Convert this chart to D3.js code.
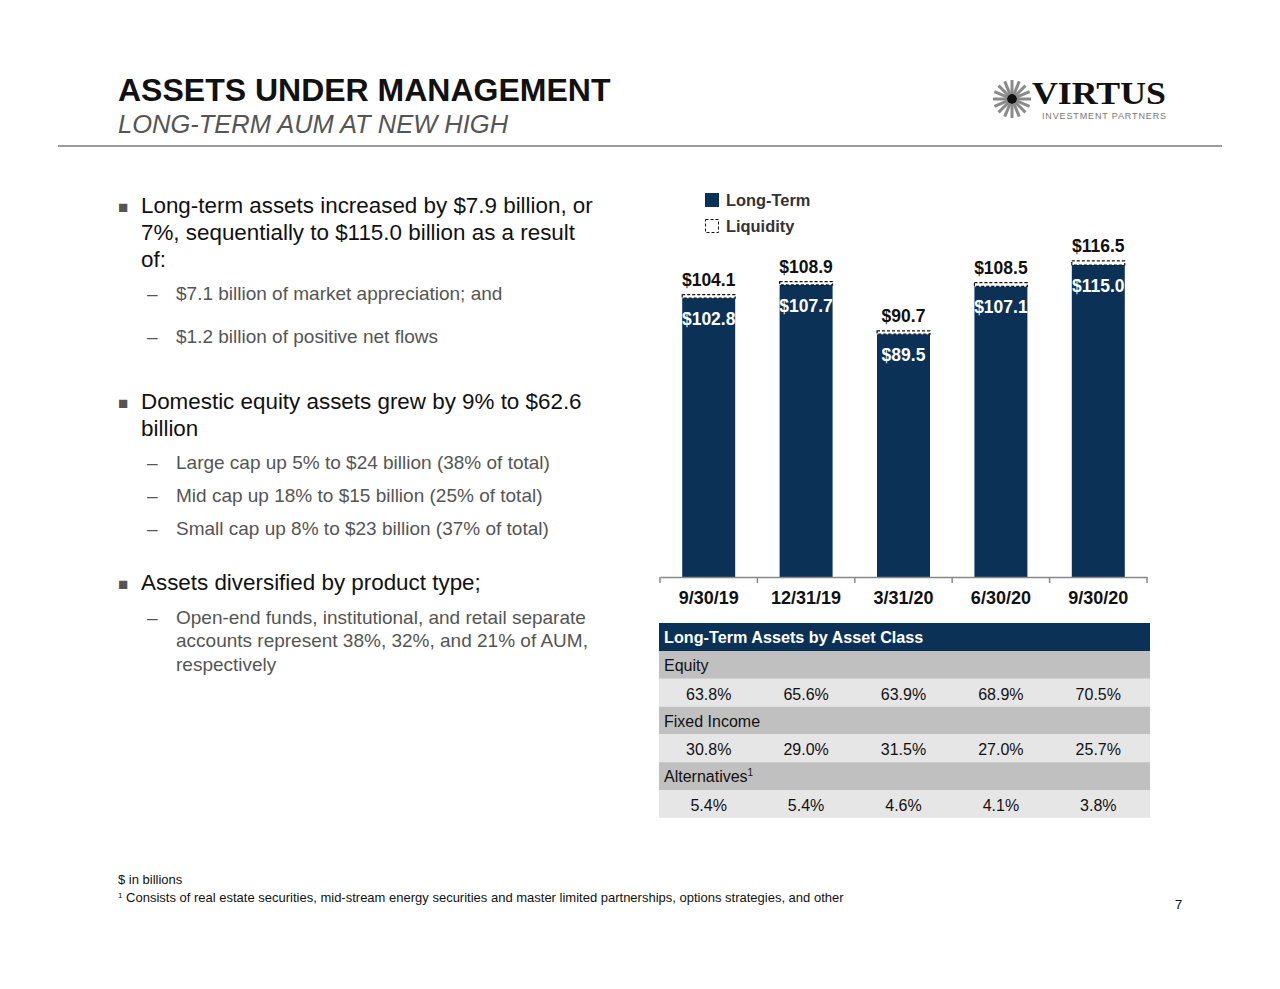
<!DOCTYPE html>
<html><head><meta charset="utf-8">
<script src="https://cdn.jsdelivr.net/npm/d3@7"></script>
<style>
body{margin:0;background:#fff;}
svg{display:block;font-family:Arial,"Liberation Sans",sans-serif;}
</style></head>
<body>
<svg id="c" width="1280" height="989"></svg>
<script>
const categories = ["9/30/19","12/31/19","3/31/20","6/30/20","9/30/20"];
const longTerm = [102.8,107.7,89.5,107.1,115.0];
const liquidity = [1.3,1.2,1.2,1.4,1.5];
const totals = [104.1,108.9,90.7,108.5,116.5];
const tableTitle = "Long-Term Assets by Asset Class";
const assetClasses = ["Equity","Fixed Income","Alternatives"];
const equity = ["63.8%","65.6%","63.9%","68.9%","70.5%"];
const fixedIncome = ["30.8%","29.0%","31.5%","27.0%","25.7%"];
const alternatives = ["5.4%","5.4%","4.6%","4.1%","3.8%"];
const seriesNames = ["Long-Term","Liquidity"];

const svg = d3.select("#c");
const navy = "#0b3157";

// Header
svg.append("text").attr("x",118).attr("y",101).attr("font-size",32).attr("font-weight","bold").attr("fill","#111").text("ASSETS UNDER MANAGEMENT");
svg.append("text").attr("x",118).attr("y",133).attr("font-size",25.5).attr("font-style","italic").attr("fill","#555").text("LONG-TERM AUM AT NEW HIGH");
svg.append("line").attr("x1",58).attr("x2",1222).attr("y1",146).attr("y2",146).attr("stroke","#9a9a9a").attr("stroke-width",2);

// Logo
const lg = svg.append("g").attr("transform","translate(1012,99)");
for(let i=0;i<16;i++){
  const a = i*Math.PI/8;
  lg.append("line").attr("x1",Math.cos(a)*5).attr("y1",Math.sin(a)*5)
    .attr("x2",Math.cos(a)*19).attr("y2",Math.sin(a)*19)
    .attr("stroke","#8a8a8a").attr("stroke-width",3);
}
lg.append("circle").attr("r",5).attr("fill","#111");
svg.append("text").attr("x",1032).attr("y",104).attr("font-size",31).attr("font-weight","bold")
  .attr("font-family","'Liberation Serif','DejaVu Serif',serif").attr("fill","#111").attr("textLength",134).attr("lengthAdjust","spacingAndGlyphs").text("VIRTUS");
svg.append("text").attr("x",1042).attr("y",119).attr("font-size",9).attr("fill","#777").attr("textLength",124).text("INVESTMENT PARTNERS");

// Bullets
const M = 22.4, S = 19, B = "#555", T = "#111";
const bullets = [
  {t:"■",x:118,y:213,s:17,c:B},
  {t:"Long-term assets increased by $7.9 billion, or",x:141,y:213,s:M,c:T},
  {t:"7%, sequentially to $115.0 billion as a result",x:141,y:240,s:M,c:T},
  {t:"of:",x:141,y:267,s:M,c:T},
  {t:"–",x:147,y:300,s:S,c:B},
  {t:"$7.1 billion of market appreciation; and",x:176,y:300,s:S,c:B},
  {t:"–",x:147,y:343,s:S,c:B},
  {t:"$1.2 billion of positive net flows",x:176,y:343,s:S,c:B},
  {t:"■",x:118,y:409,s:17,c:B},
  {t:"Domestic equity assets grew by 9% to $62.6",x:141,y:409,s:M,c:T},
  {t:"billion",x:141,y:436,s:M,c:T},
  {t:"–",x:147,y:469,s:S,c:B},
  {t:"Large cap up 5% to $24 billion (38% of total)",x:176,y:469,s:S,c:B},
  {t:"–",x:147,y:502,s:S,c:B},
  {t:"Mid cap up 18% to $15 billion (25% of total)",x:176,y:502,s:S,c:B},
  {t:"–",x:147,y:535,s:S,c:B},
  {t:"Small cap up 8% to $23 billion (37% of total)",x:176,y:535,s:S,c:B},
  {t:"■",x:118,y:590,s:17,c:B},
  {t:"Assets diversified by product type;",x:141,y:590,s:M,c:T},
  {t:"–",x:147,y:624,s:S,c:B},
  {t:"Open-end funds, institutional, and retail separate",x:176,y:624,s:S,c:B},
  {t:"accounts represent 38%, 32%, and 21% of AUM,",x:176,y:647,s:S,c:B},
  {t:"respectively",x:176,y:671,s:S,c:B},
];
svg.append("g").selectAll("text").data(bullets).join("text")
  .attr("x",d=>d.x).attr("y",d=>d.y).attr("font-size",d=>d.s).attr("fill",d=>d.c).text(d=>d.t);

// Chart
const x = d3.scaleBand().domain(categories).range([660,1147]).paddingInner(0.456).paddingOuter(0.228);
const y = d3.scaleLinear().domain([0,115]).range([577,265]);

const rows = categories.map((c,i)=>({c,lt:longTerm[i],lq:liquidity[i],tot:totals[i]}));
const g = svg.append("g");
g.selectAll("rect.lt").data(rows).join("rect").attr("class","lt")
  .attr("x",d=>x(d.c)).attr("width",x.bandwidth())
  .attr("y",d=>y(d.lt)).attr("height",d=>y(0)-y(d.lt)).attr("fill",navy);
g.selectAll("rect.lq").data(rows).join("rect").attr("class","lq")
  .attr("x",d=>x(d.c)).attr("width",x.bandwidth())
  .attr("y",d=>y(d.lt+d.lq)).attr("height",d=>y(d.lt)-y(d.lt+d.lq))
  .attr("fill","#fff").attr("stroke","#111").attr("stroke-width",1.2).attr("stroke-dasharray","3,2");
g.selectAll("text.tot").data(rows).join("text").attr("class","tot")
  .attr("x",d=>x(d.c)+x.bandwidth()/2).attr("y",d=>y(d.tot)-9)
  .attr("text-anchor","middle").attr("font-size",17.5).attr("font-weight","bold").attr("fill","#111")
  .text(d=>"$"+d.tot.toFixed(1));
g.selectAll("text.ltl").data(rows).join("text").attr("class","ltl")
  .attr("x",d=>x(d.c)+x.bandwidth()/2).attr("y",d=>y(d.lt)+27)
  .attr("text-anchor","middle").attr("font-size",17.5).attr("font-weight","bold").attr("fill","#fff")
  .text(d=>"$"+d.lt.toFixed(1));

// axis
const axis = d3.axisBottom(x).tickSize(0).tickPadding(14);
const ag = svg.append("g").attr("transform","translate(0,577)").call(axis);
ag.select(".domain").attr("stroke","#888").attr("stroke-width",1.5);
ag.selectAll("text").attr("font-size",18).attr("font-weight","bold").attr("fill","#111").attr("font-family","Arial,'Liberation Sans',sans-serif");
const bounds = categories.map(c=>x(c)-x.step()*x.paddingInner()/2).concat([1147]);
ag.selectAll("line.b").data(bounds).join("line").attr("class","b")
  .attr("x1",d=>d).attr("x2",d=>d).attr("y1",0).attr("y2",6).attr("stroke","#888").attr("stroke-width",1.5);

// legend
const leg = svg.append("g");
leg.append("rect").attr("x",705).attr("y",193).attr("width",14).attr("height",14).attr("fill",navy);
leg.append("rect").attr("x",705.5).attr("y",219.5).attr("width",13).attr("height",13).attr("fill","#fff").attr("stroke","#111").attr("stroke-dasharray","3,2");
leg.selectAll("text").data(seriesNames).join("text").attr("x",726).attr("y",(d,i)=>206+i*26)
  .attr("font-size",16.4).attr("font-weight","bold").attr("fill","#333").text(d=>d);

// table
const tx = 659, tw = 491, rh = 27.8;
const t = svg.append("g");
t.append("rect").attr("x",tx).attr("y",623).attr("width",tw).attr("height",28).attr("fill",navy);
t.append("text").attr("x",664).attr("y",643).attr("font-size",16.2).attr("font-weight","bold").attr("fill","#fff").text(tableTitle);
const tdata = [equity,fixedIncome,alternatives];
assetClasses.forEach((name,k)=>{
  const y0 = 651 + k*2*rh;
  t.append("rect").attr("x",tx).attr("y",y0).attr("width",tw).attr("height",rh).attr("fill","#c0c0c0");
  const lbl = t.append("text").attr("x",664).attr("y",y0+20).attr("font-size",16).attr("fill","#111").text(name);
  if(name==="Alternatives") lbl.append("tspan").attr("font-size",10).attr("dy",-6).text("1");
  t.append("rect").attr("x",tx).attr("y",y0+rh).attr("width",tw).attr("height",rh).attr("fill","#e6e6e6");
  t.selectAll("text.v"+k).data(tdata[k]).join("text").attr("class","v"+k)
    .attr("x",(d,i)=>x(categories[i])+x.bandwidth()/2).attr("y",y0+rh+21)
    .attr("text-anchor","middle").attr("font-size",16).attr("fill","#111").text(d=>d);
});

// footnotes
svg.append("text").attr("x",118).attr("y",884).attr("font-size",13).attr("fill","#111").text("$ in billions");
const fn = svg.append("text").attr("x",118).attr("y",902).attr("font-size",13).attr("fill","#111");
fn.append("tspan").attr("font-size",8).attr("dy",-4).text("1");
fn.append("tspan").attr("dy",4).text(" Consists of real estate securities, mid-stream energy securities and master limited partnerships, options strategies, and other");
svg.append("text").attr("x",1175).attr("y",909).attr("font-size",13).attr("fill","#111").text("7");
</script>
</body></html>
